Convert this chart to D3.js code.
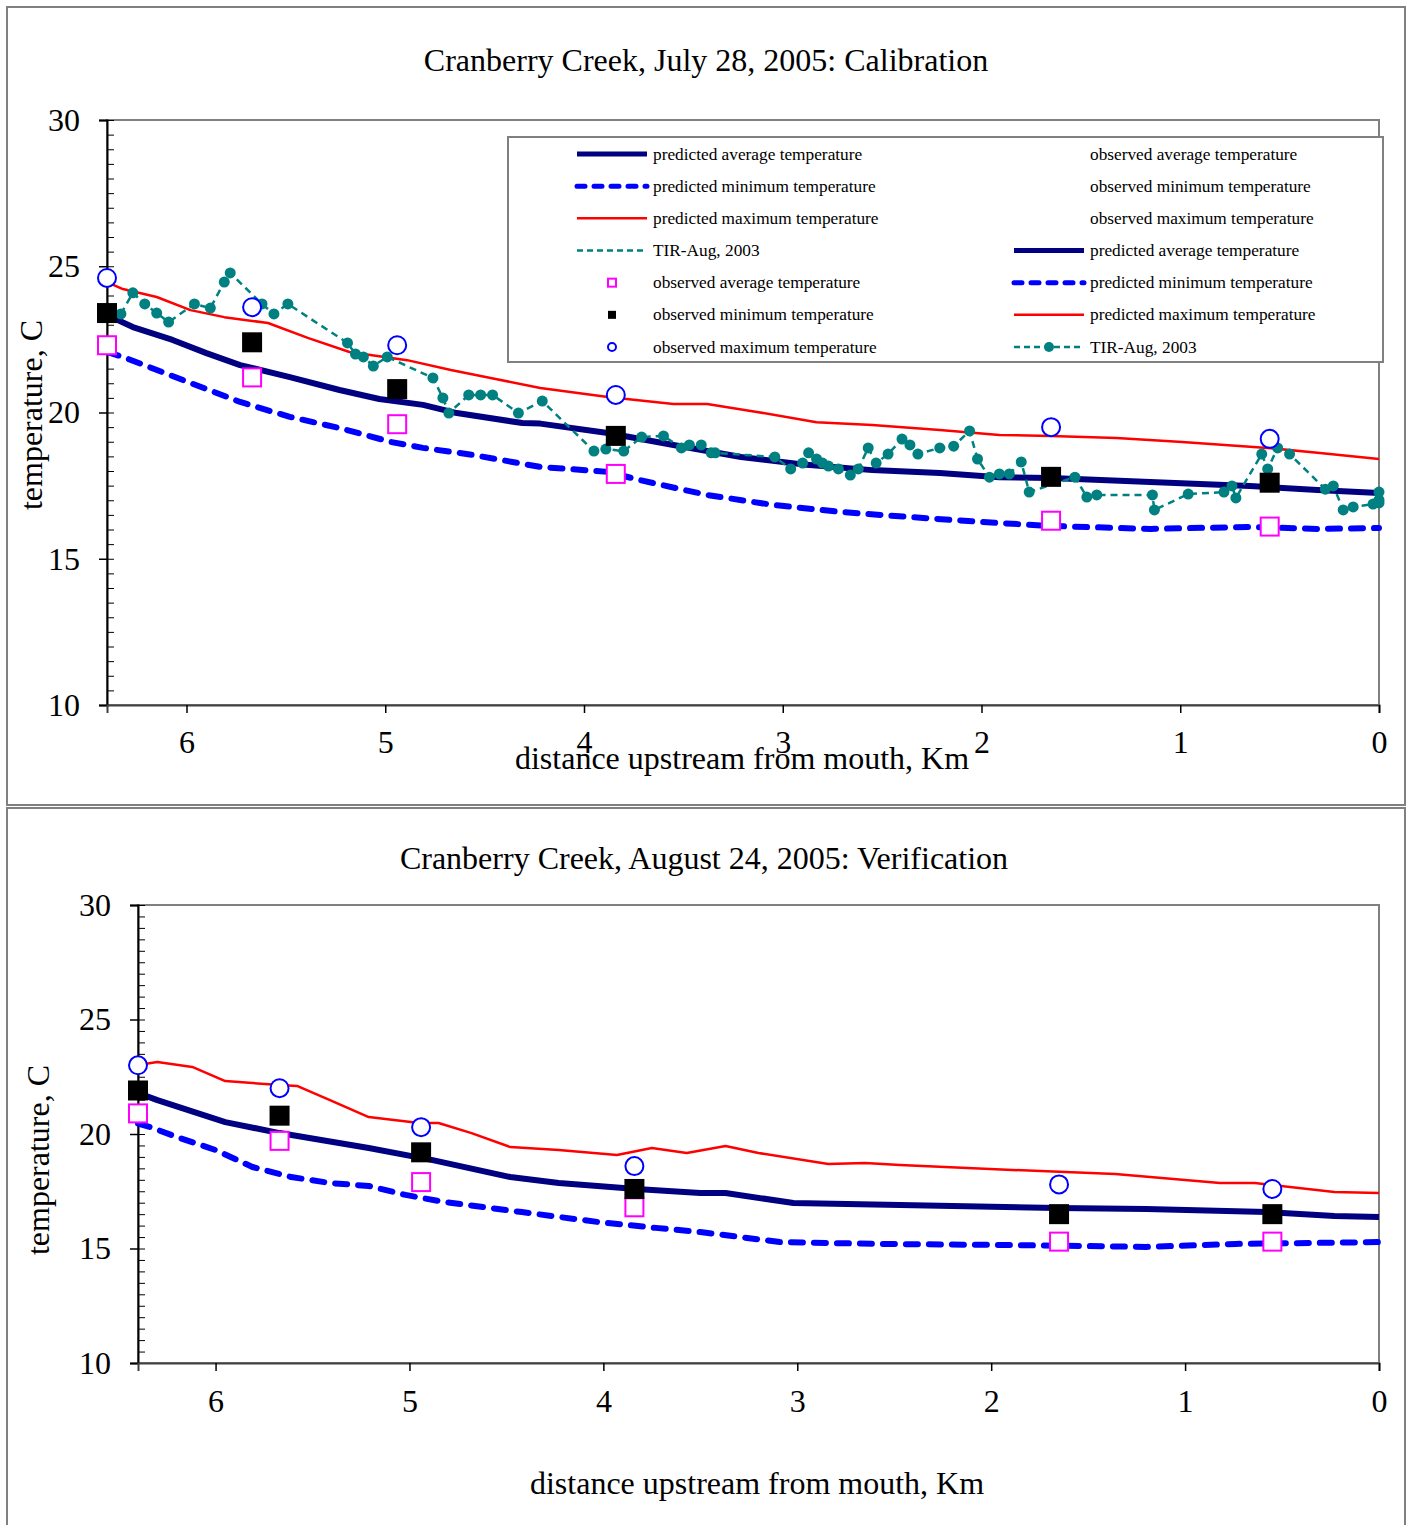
<!DOCTYPE html>
<html>
<head>
<meta charset="utf-8">
<script src="https://cdn.jsdelivr.net/npm/d3@7"></script>
<style>
    body { margin: 0; background: #fff; }
    text { font-family: "Liberation Serif", "Times New Roman", serif; fill: #000; }
</style>
</head>
<body>
<div id="chart"></div>
<script>

// ---- data ----
let kmTicks = [0, 1, 2, 3, 4, 5, 6];
let tempTicks = [10, 15, 20, 25, 30];
let minorTicks = d3.range(10, 30.01, 0.5);

// observation stations, km upstream from mouth
let obsKm = [6.40, 5.67, 4.94, 3.84, 1.65, 0.55];

// July 28, 2005 (calibration)
let calObsMax = [24.6, 23.6, 22.3, 20.6, 19.5, 19.1];
let calObsMin = [23.4, 22.4, 20.8, 19.2, 17.8, 17.6];
let calObsAvg = [22.3, 21.2, 19.6, 17.9, 16.3, 16.1];

let calPredAvg = [[6.40, 23.33], [6.27, 22.92], [6.07, 22.48], [5.90, 22.03], [5.73, 21.62],
    [5.48, 21.21], [5.23, 20.77], [5.03, 20.46], [4.81, 20.26], [4.64, 19.98], [4.31, 19.64],
    [4.22, 19.62], [3.88, 19.30], [3.55, 18.89], [3.21, 18.48], [2.88, 18.21], [2.55, 18.03],
    [2.21, 17.93], [1.91, 17.79], [1.65, 17.76], [1.15, 17.62], [0.65, 17.49], [0.31, 17.35],
    [0.0, 17.25]];

let calPredMin = [[6.40, 22.07], [6.32, 21.90], [5.98, 21.01], [5.73, 20.36], [5.48, 19.85],
    [5.23, 19.47], [4.97, 18.99], [4.81, 18.79], [4.56, 18.55], [4.22, 18.14], [3.88, 17.97],
    [3.72, 17.69], [3.38, 17.18], [3.05, 16.84], [2.71, 16.60], [2.37, 16.43], [1.91, 16.22],
    [1.65, 16.12], [1.15, 16.02], [0.65, 16.09], [0.31, 16.02], [0.0, 16.05]];

let calPredMax = [[6.40, 24.46], [6.32, 24.22], [6.15, 23.95], [5.98, 23.50], [5.81, 23.26],
    [5.59, 23.06], [5.39, 22.55], [5.18, 22.07], [4.89, 21.79], [4.67, 21.45], [4.47, 21.18],
    [4.22, 20.84], [3.88, 20.53], [3.55, 20.29], [3.38, 20.29], [3.13, 20.02], [2.83, 19.67],
    [2.55, 19.57], [2.21, 19.40], [1.91, 19.23], [1.65, 19.20], [1.32, 19.13], [0.99, 18.99],
    [0.56, 18.79], [0.31, 18.62], [0.0, 18.41]];

// TIR survey, Aug 2003
let calTir = [[6.33, 23.37], [6.27, 24.09], [6.21, 23.71], [6.15, 23.40], [6.09, 23.09],
    [5.96, 23.71], [5.88, 23.57], [5.81, 24.46], [5.78, 24.77], [5.62, 23.71], [5.56, 23.37],
    [5.49, 23.71], [5.19, 22.38], [5.15, 22.00], [5.11, 21.90], [5.06, 21.59], [4.99, 21.90],
    [4.76, 21.18], [4.71, 20.50], [4.68, 19.98], [4.58, 20.60], [4.52, 20.60], [4.46, 20.60],
    [4.33, 19.98], [4.21, 20.39], [3.95, 18.68], [3.89, 18.75], [3.80, 18.68], [3.71, 19.16],
    [3.60, 19.20], [3.51, 18.79], [3.47, 18.89], [3.41, 18.89], [3.36, 18.62], [3.34, 18.62],
    [3.04, 18.48], [2.96, 18.07], [2.90, 18.27], [2.87, 18.62], [2.83, 18.41], [2.80, 18.27],
    [2.77, 18.17], [2.72, 18.07], [2.66, 17.86], [2.62, 18.07], [2.57, 18.79], [2.53, 18.27],
    [2.47, 18.58], [2.40, 19.09], [2.36, 18.89], [2.32, 18.58], [2.21, 18.79], [2.14, 18.85],
    [2.06, 19.37], [2.02, 18.41], [1.96, 17.79], [1.91, 17.90], [1.86, 17.90], [1.80, 18.31],
    [1.76, 17.28], [1.53, 17.79], [1.47, 17.11], [1.42, 17.18], [1.14, 17.18], [1.13, 16.67],
    [0.96, 17.21], [0.78, 17.28], [0.74, 17.49], [0.72, 17.08], [0.59, 18.58], [0.56, 18.07],
    [0.51, 18.79], [0.45, 18.58], [0.27, 17.38], [0.23, 17.49], [0.18, 16.67], [0.13, 16.77],
    [0.03, 16.87], [0.0, 17.28], [0.0, 17.01], [0.0, 16.91]];

// August 24, 2005 (verification)
let verObsMax = [23.0, 22.0, 20.3, 18.6, 17.8, 17.6];
let verObsMin = [21.9, 20.8, 19.2, 17.6, 16.5, 16.5];
let verObsAvg = [20.9, 19.7, 17.9, 16.8, 15.3, 15.3];

let verPredAvg = [[6.40, 21.79], [6.30, 21.48], [5.95, 20.52], [5.67, 20.04], [5.21, 19.39],
    [4.88, 18.86], [4.48, 18.12], [4.23, 17.86], [3.83, 17.60], [3.50, 17.42], [3.37, 17.42],
    [3.02, 16.99], [2.47, 16.90], [1.66, 16.77], [1.20, 16.72], [0.58, 16.59], [0.23, 16.42],
    [0.0, 16.38]];

let verPredMin = [[6.40, 20.45], [6.34, 20.31], [6.20, 19.87], [6.00, 19.30], [5.81, 18.56],
    [5.61, 18.12], [5.41, 17.86], [5.21, 17.73], [5.02, 17.34], [4.82, 17.03], [4.42, 16.59],
    [4.03, 16.16], [3.73, 15.90], [3.50, 15.72], [3.09, 15.28], [2.58, 15.20], [1.89, 15.15],
    [1.20, 15.07], [0.74, 15.20], [0.0, 15.28]];

let verPredMax = [[6.40, 23.01], [6.30, 23.14], [6.12, 22.93], [5.95, 22.31], [5.67, 22.14],
    [5.58, 22.10], [5.41, 21.48], [5.21, 20.74], [4.95, 20.48], [4.85, 20.48], [4.68, 20.04],
    [4.48, 19.43], [4.23, 19.30], [3.93, 19.08], [3.75, 19.39], [3.57, 19.17], [3.37, 19.48],
    [3.20, 19.17], [2.84, 18.69], [2.65, 18.73], [2.47, 18.65], [1.89, 18.43], [1.36, 18.25],
    [0.82, 17.86], [0.64, 17.86], [0.23, 17.47], [0.0, 17.42]];

// legend text (top chart only)
let legendLeft = ["predicted average temperature", "predicted minimum temperature",
    "predicted maximum temperature", "TIR-Aug, 2003", "observed average temperature",
    "observed minimum temperature", "observed maximum temperature"];
let legendRight = ["observed average temperature", "observed minimum temperature",
    "observed maximum temperature", "predicted average temperature",
    "predicted minimum temperature", "predicted maximum temperature", "TIR-Aug, 2003"];

// ---- drawing ----
let svgWidth = 1411;
let svgHeight = 1525;

let svg = d3.select("#chart")
    .append("svg")
    .attr("width", svgWidth)
    .attr("height", svgHeight);

// panel frames
svg.append("rect")
    .attr("x", 7).attr("y", 7).attr("width", 1398).attr("height", 798)
    .attr("fill", "none").attr("stroke", "#808080").attr("stroke-width", 2);
svg.append("rect")
    .attr("x", 7).attr("y", 808).attr("width", 1398).attr("height", 740)
    .attr("fill", "none").attr("stroke", "#808080").attr("stroke-width", 2);

let lineStyles = {
    avg: { color: "#000080", width: 6, dash: null },
    min: { color: "#0000FF", width: 6, dash: "12,11" },
    max: { color: "#FF0000", width: 2.5, dash: null },
    tir: { color: "#008080", width: 2.5, dash: "7,5" }
};

function drawPanel(p) {
    let x = d3.scaleLinear().domain([6.4, 0]).range([p.left, p.right]);
    let y = d3.scaleLinear().domain([10, 30]).range([p.bottom, p.top]);

    // title
    svg.append("text")
        .attr("x", p.titleX).attr("y", p.titleY)
        .attr("text-anchor", "middle")
        .style("font-size", "32px")
        .text(p.title);

    // plot area border (gray)
    svg.append("rect")
        .attr("x", p.left).attr("y", p.top)
        .attr("width", p.right - p.left).attr("height", p.bottom - p.top)
        .attr("fill", "none").attr("stroke", "#808080").attr("stroke-width", 2);

    // y axis, major outside, minor inside
    let yAxis = svg.append("g")
        .attr("transform", `translate(${p.left}, 0)`)
        .call(d3.axisLeft(y).tickValues(tempTicks).tickSize(8).tickPadding(19));
    yAxis.select(".domain").attr("stroke", "#000").attr("stroke-width", 2);
    yAxis.selectAll(".tick line").attr("stroke", "#000").attr("stroke-width", 1.5);
    yAxis.selectAll("text").style("font-size", "32px").attr("font-family", null);

    let yMinor = svg.append("g")
        .attr("transform", `translate(${p.left}, 0)`)
        .call(d3.axisRight(y).tickValues(minorTicks).tickSize(7).tickFormat(""));
    yMinor.select(".domain").remove();
    yMinor.selectAll(".tick line").attr("stroke", "#000").attr("stroke-width", 1);

    // x axis
    let xAxis = svg.append("g")
        .attr("transform", `translate(0, ${p.bottom})`)
        .call(d3.axisBottom(x).tickValues(kmTicks).tickSize(8).tickPadding(p.xPad).tickFormat(d3.format("d")));
    xAxis.select(".domain").attr("stroke", "#404040").attr("stroke-width", 2);
    xAxis.selectAll(".tick line").attr("stroke", "#000").attr("stroke-width", 1.5);
    xAxis.selectAll("text").style("font-size", "32px").attr("font-family", null);

    // axis titles
    svg.append("text")
        .attr("x", p.xTitleX).attr("y", p.xTitleY)
        .attr("text-anchor", "middle")
        .style("font-size", "32px")
        .text("distance upstream from mouth, Km");

    svg.append("text")
        .attr("transform", `translate(${p.yTitleX}, ${p.yTitleY}) rotate(-90)`)
        .attr("text-anchor", "middle")
        .style("font-size", "32px")
        .text("temperature, C");

    let line = d3.line().x(d => x(d[0])).y(d => y(d[1]));

    function addLine(data, s) {
        svg.append("path")
            .datum(data)
            .attr("d", line)
            .attr("fill", "none")
            .attr("stroke", s.color)
            .attr("stroke-width", s.width)
            .attr("stroke-dasharray", s.dash)
            .attr("stroke-linecap", s.dash && s.width > 4 ? "round" : "butt")
            .attr("stroke-linejoin", "round");
    }

    addLine(p.predMin, lineStyles.min);
    addLine(p.predAvg, lineStyles.avg);
    addLine(p.predMax, lineStyles.max);

    if (p.tir) {
        addLine(p.tir, lineStyles.tir);
        svg.append("g").selectAll("circle")
            .data(p.tir)
            .enter()
            .append("circle")
            .attr("cx", d => x(d[0]))
            .attr("cy", d => y(d[1]))
            .attr("r", 5.5)
            .attr("fill", "#008080");
    }

    // observations
    svg.append("g").selectAll("rect")
        .data(obsKm)
        .enter()
        .append("rect")
        .attr("x", (d, i) => x(d) - 9)
        .attr("y", (d, i) => y(p.obsAvg[i]) - 9)
        .attr("width", 18).attr("height", 18)
        .attr("fill", "#fff").attr("stroke", "#FF00FF").attr("stroke-width", 2);

    svg.append("g").selectAll("rect")
        .data(obsKm)
        .enter()
        .append("rect")
        .attr("x", (d, i) => x(d) - 10)
        .attr("y", (d, i) => y(p.obsMin[i]) - 10)
        .attr("width", 20).attr("height", 20)
        .attr("fill", "#000");

    svg.append("g").selectAll("circle")
        .data(obsKm)
        .enter()
        .append("circle")
        .attr("cx", d => x(d))
        .attr("cy", (d, i) => y(p.obsMax[i]))
        .attr("r", 9)
        .attr("fill", "#fff").attr("stroke", "#0000FF").attr("stroke-width", 2);
}

drawPanel({
    title: "Cranberry Creek, July 28, 2005: Calibration",
    titleX: 706, titleY: 71,
    left: 107, right: 1379, top: 120, bottom: 705,
    xPad: 17, xTitleX: 742, xTitleY: 769,
    yTitleX: 42, yTitleY: 415,
    obsAvg: calObsAvg, obsMin: calObsMin, obsMax: calObsMax,
    predAvg: calPredAvg, predMin: calPredMin, predMax: calPredMax,
    tir: calTir
});

drawPanel({
    title: "Cranberry Creek, August 24, 2005: Verification",
    titleX: 704, titleY: 869,
    left: 138, right: 1379, top: 905, bottom: 1363,
    xPad: 18, xTitleX: 757, xTitleY: 1494,
    yTitleX: 49, yTitleY: 1160,
    obsAvg: verObsAvg, obsMin: verObsMin, obsMax: verObsMax,
    predAvg: verPredAvg, predMin: verPredMin, predMax: verPredMax,
    tir: null
});

// ---- legend (top chart) ----
let legend = svg.append("g");
legend.append("rect")
    .attr("x", 508).attr("y", 137).attr("width", 875).attr("height", 225)
    .attr("fill", "#fff").attr("stroke", "#808080").attr("stroke-width", 2);

let rowY = d3.scalePoint().domain(d3.range(7)).range([154, 347]);

function legendSymbol(kind, x0, x1, cy) {
    let s = lineStyles[kind];
    if (s) {
        legend.append("line")
            .attr("x1", x0).attr("x2", x1).attr("y1", cy).attr("y2", cy)
            .attr("stroke", s.color)
            .attr("stroke-width", kind === "avg" || kind === "min" ? 5 : s.width)
            .attr("stroke-dasharray", kind === "min" ? "8,9" : kind === "tir" ? "6,4" : null)
            .attr("stroke-linecap", kind === "min" ? "round" : "butt");
        return;
    }
    let cx = (x0 + x1) / 2;
    if (kind === "oavg") {
        legend.append("rect").attr("x", cx - 4).attr("y", cy - 4).attr("width", 8).attr("height", 8)
            .attr("fill", "#fff").attr("stroke", "#FF00FF").attr("stroke-width", 2);
    } else if (kind === "omin") {
        legend.append("rect").attr("x", cx - 4).attr("y", cy - 4).attr("width", 8).attr("height", 8)
            .attr("fill", "#000");
    } else if (kind === "omax") {
        legend.append("circle").attr("cx", cx).attr("cy", cy).attr("r", 4)
            .attr("fill", "#fff").attr("stroke", "#0000FF").attr("stroke-width", 2);
    }
}

let leftKinds = ["avg", "min", "max", "tir", "oavg", "omin", "omax"];
let rightKinds = [null, null, null, "avg", "min", "max", "tirm"];

legendLeft.forEach(function (label, i) {
    legendSymbol(leftKinds[i], 577, 647, rowY(i));
    legend.append("text")
        .attr("x", 653).attr("y", rowY(i)).attr("dy", "0.32em")
        .style("font-size", "17.3px")
        .text(label);
});

legendRight.forEach(function (label, i) {
    let k = rightKinds[i];
    if (k === "tirm") {
        legendSymbol("tir", 1014, 1084, rowY(i));
        legend.append("circle").attr("cx", 1049).attr("cy", rowY(i)).attr("r", 5)
            .attr("fill", "#008080");
    } else if (k) {
        legendSymbol(k, 1014, 1084, rowY(i));
    }
    legend.append("text")
        .attr("x", 1090).attr("y", rowY(i)).attr("dy", "0.32em")
        .style("font-size", "17.3px")
        .text(label);
});

</script>
</body>
</html>
